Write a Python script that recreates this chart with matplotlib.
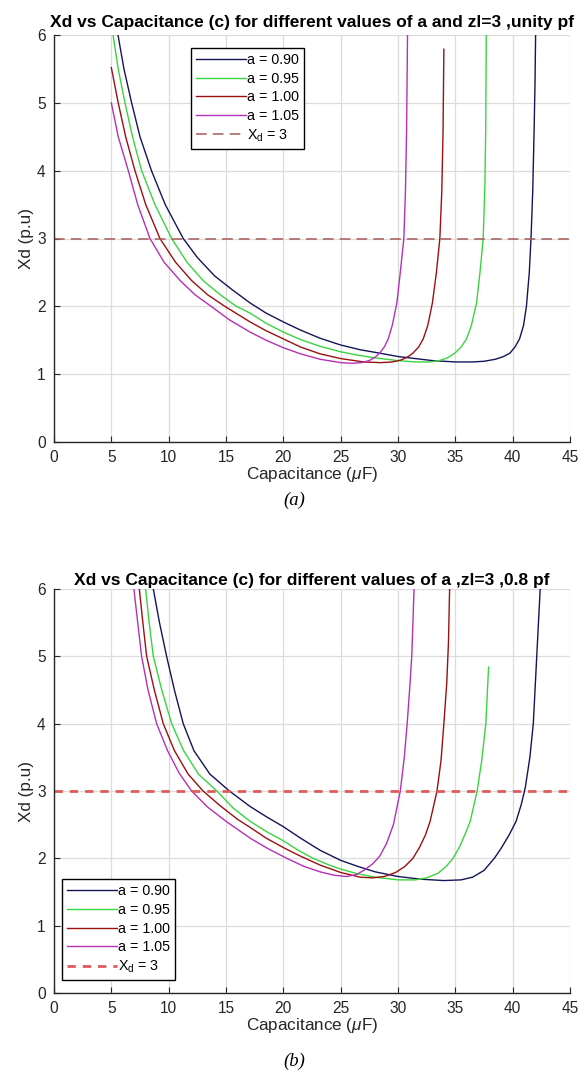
import matplotlib
matplotlib.use("Agg")
import matplotlib.pyplot as plt

plt.rcParams['font.family'] = ['Liberation Sans', 'DejaVu Sans']
plt.rcParams['mathtext.fontset'] = 'custom'
plt.rcParams['mathtext.rm'] = 'Liberation Sans'
plt.rcParams['mathtext.it'] = 'Liberation Sans:italic'

# ---------------- data: (a) unity pf ----------------
a_labels = ['a = 0.90', 'a = 0.95', 'a = 1.00', 'a = 1.05']

ua_c_090 = [5.0, 5.58, 6.1, 6.77, 7.5, 8.5, 9.7, 11.27, 12.5, 14.0, 15.5, 17.1, 18.5, 20.0, 21.5, 23.2, 25.0, 26.7,
            28.4, 30.0, 31.5, 33.0, 35.0, 36.5, 37.5, 38.5, 39.2, 39.76, 40.2, 40.6, 40.95, 41.2, 41.45, 41.6, 41.75,
            41.87, 41.95, 42.0]
ua_x_090 = [6.6, 6.0, 5.5, 5.0, 4.5, 4.0, 3.5, 3.0, 2.72, 2.45, 2.25, 2.05, 1.9, 1.77, 1.65, 1.53, 1.43, 1.36,
            1.31, 1.26, 1.23, 1.2, 1.18, 1.18, 1.19, 1.22, 1.26, 1.31, 1.4, 1.52, 1.72, 2.0, 2.5, 3.0, 3.7,
            4.6, 5.3, 6.0]

ua_c_095 = [5.0, 5.15, 5.6, 6.19, 6.85, 7.64, 8.8, 10.26, 11.6, 13.0, 14.5, 15.9, 17.1, 18.5, 20.0, 21.5, 23.2, 25.0,
            26.5, 28.0, 30.0, 31.5, 32.8, 33.6, 34.3, 34.96, 35.5, 35.98, 36.4, 36.85, 37.15, 37.43, 37.58, 37.65, 37.7]
ua_x_095 = [6.15, 6.0, 5.5, 5.0, 4.5, 4.0, 3.5, 3.0, 2.65, 2.38, 2.17, 2.0, 1.9, 1.75, 1.62, 1.51, 1.41, 1.33,
            1.28, 1.24, 1.2, 1.18, 1.18, 1.2, 1.24, 1.31, 1.4, 1.52, 1.72, 2.05, 2.5, 3.0, 3.8, 4.6, 6.0]

ua_c_100 = [5.0, 5.6, 6.25, 7.06, 8.0, 9.24, 10.6, 12.0, 13.4, 14.9, 17.1, 18.5, 20.0, 21.5, 23.2, 25.0, 27.0, 28.5,
            29.5, 30.3, 30.9, 31.3, 31.8, 32.2, 32.6, 33.0, 33.35, 33.65, 33.82, 33.93, 34.0]
ua_x_100 = [5.52, 5.0, 4.5, 4.0, 3.5, 3.0, 2.65, 2.38, 2.17, 2.0, 1.77, 1.64, 1.52, 1.4, 1.3, 1.23, 1.18, 1.17,
            1.18, 1.21, 1.26, 1.31, 1.4, 1.52, 1.72, 2.05, 2.5, 3.0, 3.7, 4.6, 5.79]

ua_c_105 = [5.0, 5.6, 6.48, 7.3, 8.37, 9.6, 11.0, 12.3, 13.7, 15.3, 17.1, 18.5, 20.0, 21.5, 23.2, 25.0, 26.0, 26.8,
            27.5, 28.0, 28.4, 28.8, 29.15, 29.5, 29.9, 30.2, 30.51, 30.65, 30.75, 30.83]
ua_x_105 = [5.0, 4.5, 4.0, 3.5, 3.0, 2.65, 2.38, 2.17, 2.0, 1.8, 1.62, 1.5, 1.39, 1.3, 1.22, 1.17, 1.16, 1.17,
            1.2, 1.25, 1.31, 1.4, 1.52, 1.72, 2.05, 2.5, 3.0, 3.7, 4.6, 6.0]

# ---------------- data: (b) 0.8 pf ----------------
ub_c_090 = [8.3, 8.66, 9.2, 9.82, 10.5, 11.27, 12.2, 13.6, 15.3, 17.1, 18.5, 20.0, 21.5, 23.2, 25.0, 26.5, 28.0,
            30.0, 32.0, 34.0, 35.5, 36.5, 37.5, 38.4, 39.0, 39.7, 40.3, 40.75, 41.1, 41.5, 41.8, 42.1, 42.4]
ub_x_090 = [6.35, 6.0, 5.5, 5.0, 4.5, 4.0, 3.6, 3.25, 3.0, 2.77, 2.62, 2.47, 2.3, 2.12, 1.97, 1.88, 1.8,
            1.73, 1.69, 1.67, 1.68, 1.72, 1.82, 2.0, 2.15, 2.35, 2.55, 2.8, 3.05, 3.5, 4.0, 5.0, 6.0]

ub_c_095 = [7.7, 7.99, 8.3, 8.66, 9.4, 10.26, 11.3, 12.6, 14.2, 15.6, 17.1, 18.5, 20.0, 21.3, 22.6, 24.0, 25.0, 26.5,
            28.0, 30.0, 31.5, 32.5, 33.5, 34.2, 34.8, 35.4, 35.9, 36.3, 36.9, 37.3, 37.66, 37.9]
ub_x_095 = [6.35, 6.0, 5.5, 5.0, 4.5, 4.0, 3.6, 3.25, 3.0, 2.75, 2.55, 2.4, 2.26, 2.12, 2.0, 1.9, 1.84, 1.77,
            1.72, 1.68, 1.68, 1.71, 1.78, 1.88, 2.0, 2.18, 2.38, 2.55, 3.0, 3.45, 4.0, 4.84]

ub_c_100 = [7.2, 7.44, 7.75, 8.08, 8.75, 9.53, 10.5, 11.7, 13.0, 14.5, 16.0, 17.1, 18.5, 20.0, 21.4, 23.2, 25.0, 26.7,
            27.8, 28.8, 29.8, 30.6, 31.3, 31.9, 32.4, 32.8, 33.4, 33.75, 34.0, 34.25, 34.4, 34.5]
ub_x_100 = [6.35, 6.0, 5.5, 5.0, 4.5, 4.0, 3.6, 3.25, 3.0, 2.78, 2.58, 2.46, 2.3, 2.16, 2.04, 1.9, 1.79, 1.72,
            1.71, 1.73, 1.79, 1.88, 2.0, 2.17, 2.35, 2.55, 3.0, 3.45, 4.0, 4.6, 5.2, 6.0]

ub_c_105 = [6.75, 6.97, 7.3, 7.64, 8.2, 8.95, 9.9, 10.9, 12.0, 13.4, 15.0, 17.1, 18.7, 20.3, 21.8, 23.2, 24.4, 25.5,
            26.4, 27.1, 27.8, 28.4, 29.0, 29.6, 30.2, 30.55, 30.8, 31.05, 31.2, 31.4]
ub_x_105 = [6.35, 6.0, 5.5, 5.0, 4.5, 4.0, 3.6, 3.27, 3.0, 2.76, 2.55, 2.3, 2.14, 2.0, 1.88, 1.8, 1.75, 1.73,
            1.76, 1.83, 1.92, 2.03, 2.22, 2.5, 3.0, 3.5, 4.0, 4.6, 5.0, 6.0]

xd_limit = 3
xticks = [0, 5, 10, 15, 20, 25, 30, 35, 40, 45]
yticks = [0, 1, 2, 3, 4, 5, 6]

colors = ['#14145a', '#3ad43f', '#9a1010', '#b530b5']

fig = plt.figure(figsize=(5.88, 10.73), dpi=100)
ax1 = fig.add_axes([54 / 588, 1 - 442 / 1073, 516 / 588, 407 / 1073])
ax2 = fig.add_axes([54 / 588, 1 - 993 / 1073, 516 / 588, 404 / 1073])

def style(ax):
    ax.set_xlim(0, 45)
    ax.set_ylim(0, 6)
    ax.set_xticks(xticks)
    ax.set_yticks(yticks)
    ax.grid(True, color='#dcdcdc', linewidth=0.9)
    ax.set_axisbelow(True)
    for s in ['top', 'right']:
        ax.spines[s].set_visible(False)
    for s in ['left', 'bottom']:
        ax.spines[s].set_color('#262626')
        ax.spines[s].set_linewidth(1.0)
    ax.tick_params(direction='in', length=4, width=0.8, colors='#262626',
                   labelsize=11.2, labelcolor='#262626')
    ax.tick_params(axis='x', pad=6)
    ax.tick_params(axis='y', pad=6)
    ax.set_xlabel('Capacitance ($\\mu$F)', fontsize=12.3, color='#262626', labelpad=0)
    ax.set_ylabel('Xd (p.u)', fontsize=12.3, color='#262626', labelpad=2)

series_a = [(ua_c_090, ua_x_090), (ua_c_095, ua_x_095), (ua_c_100, ua_x_100), (ua_c_105, ua_x_105)]
series_b = [(ub_c_090, ub_x_090), (ub_c_095, ub_x_095), (ub_c_100, ub_x_100), (ub_c_105, ub_x_105)]

leg_kw = dict(fontsize=10.3, handlelength=3.5, handletextpad=0.05, borderpad=0.35, labelspacing=0.32,
              fancybox=False, framealpha=1, edgecolor='black', borderaxespad=0)

for (c, x), col, lab in zip(series_a, colors, a_labels):
    ax1.plot(c, x, color=col, linewidth=1.0, label=lab)
ax1.axhline(xd_limit, color='#a85a5a', linestyle=(0, (7, 4)), linewidth=1.1, label='X$_\\mathrm{d}$ = 3')
style(ax1)
ax1.set_title('Xd vs Capacitance (c) for different values of a and zl=3 ,unity pf',
              fontsize=12.5, fontweight='bold', pad=6)
leg1 = ax1.legend(loc='upper left', bbox_to_anchor=(0.2655, 0.968), **leg_kw)
leg1.get_frame().set_linewidth(1.0)

for (c, x), col, lab in zip(series_b, colors, a_labels):
    ax2.plot(c, x, color=col, linewidth=1.0, label=lab)
ax2.axhline(xd_limit, color='#e05a5a', linestyle=(0, (3, 2.5)), linewidth=2.0, label='X$_\\mathrm{d}$ = 3')
style(ax2)
ax2.set_title('Xd vs Capacitance (c) for different values of a ,zl=3 ,0.8 pf',
              fontsize=12.5, fontweight='bold', pad=3)
leg2 = ax2.legend(loc='lower left', bbox_to_anchor=(0.0155, 0.032), **leg_kw)
leg2.get_frame().set_linewidth(1.0)

fig.text(0.5, 1 - 500 / 1073, '(a)', ha='center', va='center', fontsize=13.5,
         family='Liberation Serif', style='italic')
fig.text(0.5, 1 - 1061 / 1073, '(b)', ha='center', va='center', fontsize=13.5,
         family='Liberation Serif', style='italic')

fig.savefig('out.png', dpi=100)
